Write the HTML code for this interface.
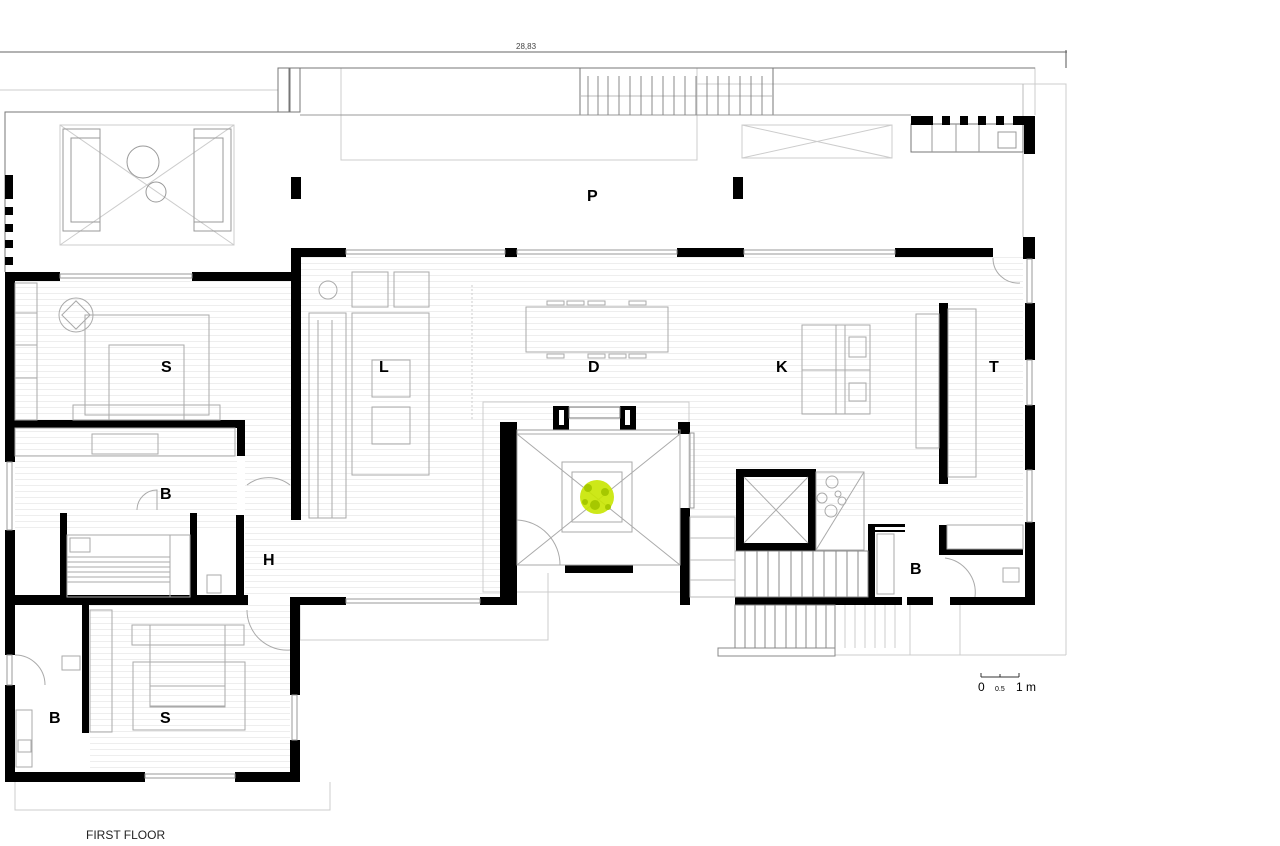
<!DOCTYPE html>
<html><head><meta charset="utf-8"><style>
html,body{margin:0;padding:0;background:#fff;}
svg{display:block;}
text{font-family:"Liberation Sans",sans-serif;}
.l{font-weight:bold;font-size:16px;fill:#000;}
</style></head><body>
<svg width="1280" height="846" viewBox="0 0 1280 846" xmlns="http://www.w3.org/2000/svg">
<defs>
<pattern id="fl" width="8" height="6" patternUnits="userSpaceOnUse"><line x1="0" y1="5.5" x2="8" y2="5.5" stroke="#eee" stroke-width="1"/></pattern>
</defs>
<!-- dimension line -->
<line x1="0" y1="52" x2="1067" y2="52" stroke="#666" stroke-width="1"/>
<line x1="1066" y1="50" x2="1066" y2="68" stroke="#555" stroke-width="1"/>
<text x="516" y="49" font-size="8" fill="#444">28,83</text>

<!-- floor hatching -->
<rect x="15" y="280" width="276" height="140" fill="url(#fl)"/>
<rect x="15" y="428" width="222" height="102" fill="url(#fl)"/>
<rect x="90" y="605" width="200" height="167" fill="url(#fl)"/>
<rect x="301" y="256" width="722" height="164" fill="url(#fl)"/>
<rect x="245" y="420" width="255" height="177" fill="url(#fl)"/>
<rect x="690" y="420" width="333" height="100" fill="url(#fl)"/>

<!-- faint outlines -->
<g fill="none" stroke="#ccc" stroke-width="1">
<rect x="341" y="68" width="356" height="92"/>
<line x1="0" y1="90" x2="278" y2="90"/>
<polyline points="697,68 1035,68 1035,115"/>
<polyline points="697,84 1066,84 1066,655"/>
<polyline points="300,605 300,640 548,640 548,573"/>
<polyline points="15,782 15,810 330,810 330,782"/>
<rect x="483" y="402" width="206" height="190"/>
<rect x="742" y="125" width="150" height="33"/>
<line x1="742" y1="125" x2="892" y2="158"/><line x1="742" y1="158" x2="892" y2="125"/>
<rect x="60" y="125" width="174" height="120"/>
<line x1="60" y1="125" x2="234" y2="245"/><line x1="60" y1="245" x2="234" y2="125"/>
<line x1="1023" y1="84" x2="1023" y2="237" stroke="#bbb"/>
<line x1="910" y1="605" x2="910" y2="655"/><line x1="960" y1="605" x2="960" y2="655"/>
<line x1="835" y1="655" x2="1066" y2="655"/>
<line x1="472" y1="285" x2="472" y2="420" stroke-dasharray="2,2"/>
</g>
<!-- terrace outline -->
<g fill="none" stroke="#777" stroke-width="1">
<polyline points="5,272 5,112 290,112 290,68 1035,68"/>
<rect x="278" y="68" width="22" height="44"/>
<line x1="289" y1="68" x2="289" y2="112"/>
<rect x="580" y="68" width="193" height="47"/>
<line x1="300" y1="115" x2="911" y2="115" stroke="#999"/>
<rect x="911" y="124" width="112" height="28"/>
</g>
<g stroke="#888" stroke-width="1">
<line x1="580" y1="96" x2="773" y2="96" stroke="#bbb"/>
<line x1="588" y1="76" x2="588" y2="115"/><line x1="598" y1="76" x2="598" y2="115"/><line x1="608" y1="76" x2="608" y2="115"/><line x1="619" y1="76" x2="619" y2="115"/><line x1="630" y1="76" x2="630" y2="115"/><line x1="641" y1="76" x2="641" y2="115"/><line x1="652" y1="76" x2="652" y2="115"/><line x1="663" y1="76" x2="663" y2="115"/><line x1="674" y1="76" x2="674" y2="115"/><line x1="685" y1="76" x2="685" y2="115"/><line x1="696" y1="76" x2="696" y2="115"/><line x1="707" y1="76" x2="707" y2="115"/><line x1="718" y1="76" x2="718" y2="115"/><line x1="729" y1="76" x2="729" y2="115"/><line x1="740" y1="76" x2="740" y2="115"/><line x1="751" y1="76" x2="751" y2="115"/><line x1="762" y1="76" x2="762" y2="115"/>
</g>
<!-- terrace furniture -->
<g fill="none" stroke="#999" stroke-width="1">
<rect x="63" y="129" width="37" height="102"/><rect x="71" y="138" width="29" height="84"/>
<rect x="194" y="129" width="37" height="102"/><rect x="194" y="138" width="29" height="84"/>
<circle cx="143" cy="162" r="16"/><circle cx="156" cy="192" r="10"/>
<line x1="932" y1="124" x2="932" y2="152"/><line x1="956" y1="124" x2="956" y2="152"/><line x1="979" y1="124" x2="979" y2="152"/>
<rect x="998" y="132" width="18" height="16"/>
</g>
<!-- shed wall pattern -->
<g fill="#000">
<rect x="911" y="116" width="22" height="9"/><rect x="942" y="116" width="8" height="9"/><rect x="960" y="116" width="8" height="9"/><rect x="978" y="116" width="8" height="9"/><rect x="996" y="116" width="8" height="9"/><rect x="1013" y="116" width="22" height="9"/>
<rect x="1024" y="116" width="11" height="38"/>
<!-- piers -->
<rect x="291" y="177" width="10" height="22"/><rect x="733" y="177" width="10" height="22"/>
<rect x="5" y="175" width="8" height="24"/><rect x="5" y="207" width="8" height="8"/><rect x="5" y="224" width="8" height="8"/><rect x="5" y="240" width="8" height="8"/><rect x="5" y="257" width="8" height="8"/>
</g>

<!-- WALLS -->
<g fill="#000">
<!-- bedroom top S -->
<rect x="5" y="272" width="55" height="9"/><rect x="192" y="272" width="108" height="9"/>
<rect x="5" y="272" width="10" height="150"/>
<rect x="5" y="420" width="240" height="8"/><rect x="237" y="420" width="8" height="36"/>
<rect x="5" y="428" width="10" height="34"/><rect x="5" y="530" width="10" height="75"/>
<rect x="60" y="513" width="7" height="87"/><rect x="190" y="513" width="7" height="87"/>
<rect x="236" y="515" width="8" height="90"/>
<rect x="5" y="595" width="243" height="10"/>
<!-- lower S -->
<rect x="5" y="605" width="10" height="50"/><rect x="5" y="685" width="10" height="97"/>
<rect x="82" y="605" width="7" height="128"/>
<rect x="5" y="772" width="140" height="10"/><rect x="235" y="772" width="65" height="10"/>
<rect x="290" y="597" width="10" height="98"/><rect x="290" y="740" width="10" height="42"/>
<!-- main block -->
<rect x="291" y="248" width="10" height="272"/><rect x="291" y="248" width="55" height="9"/>
<rect x="505" y="248" width="12" height="9"/><rect x="677" y="248" width="67" height="9"/>
<rect x="895" y="248" width="98" height="9"/>
<rect x="1023" y="237" width="12" height="22"/>
<rect x="1025" y="303" width="10" height="57"/><rect x="1025" y="405" width="10" height="65"/><rect x="1025" y="522" width="10" height="83"/>
<rect x="290" y="597" width="56" height="8"/><rect x="480" y="597" width="37" height="8"/>
<rect x="500" y="422" width="17" height="183"/>
<!-- courtyard -->
<rect x="553" y="406" width="16" height="24"/><rect x="620" y="406" width="16" height="24"/>
<rect x="565" y="565" width="68" height="8"/>
<rect x="678" y="422" width="12" height="12"/>
<rect x="680" y="508" width="10" height="97"/>
<rect x="480" y="597" width="37" height="8"/>
<!-- lift core -->
<rect x="736" y="469" width="80" height="8"/><rect x="736" y="469" width="8" height="82"/><rect x="808" y="469" width="8" height="82"/><rect x="736" y="543" width="80" height="8"/>
<!-- bottom right -->
<rect x="735" y="597" width="167" height="8"/><rect x="907" y="597" width="26" height="8"/><rect x="950" y="597" width="85" height="8"/>
<rect x="868" y="527" width="7" height="78"/><rect x="868" y="524" width="37" height="3"/><rect x="868" y="530" width="37" height="2"/>
<rect x="939" y="525" width="8" height="30"/><rect x="939" y="549" width="84" height="6"/>
<!-- T divider -->
<rect x="939" y="303" width="9" height="181"/>
</g>
<rect x="559" y="410" width="5" height="15" fill="#fff"/><rect x="625" y="410" width="5" height="15" fill="#fff"/>
<rect x="569" y="407" width="51" height="11" fill="none" stroke="#777"/>

<!-- windows -->
<g fill="none" stroke="#999" stroke-width="1">
<rect x="346" y="250" width="159" height="4"/><rect x="517" y="250" width="160" height="4"/><rect x="744" y="250" width="151" height="4"/>
<rect x="60" y="274" width="132" height="4"/><rect x="145" y="774" width="90" height="4"/><rect x="346" y="599" width="134" height="4"/>
<rect x="1027" y="259" width="5" height="44"/><rect x="1027" y="360" width="5" height="45"/><rect x="1027" y="470" width="5" height="52"/>
<rect x="7" y="462" width="5" height="68"/><rect x="7" y="655" width="5" height="30"/><rect x="292" y="695" width="5" height="45"/>
<rect x="690" y="433" width="4" height="75"/><rect x="517" y="430" width="163" height="4"/>
</g>
<!-- interior fixtures -->
<g fill="none" stroke="#aaa" stroke-width="1">
<rect x="15" y="283" width="22" height="137"/><line x1="15" y1="313" x2="37" y2="313"/><line x1="15" y1="345" x2="37" y2="345"/><line x1="15" y1="378" x2="37" y2="378"/>
<rect x="85" y="315" width="124" height="100"/><rect x="109" y="345" width="75" height="75"/><rect x="73" y="405" width="147" height="15"/>
<circle cx="76" cy="315" r="17"/><rect x="66" y="305" width="20" height="20" transform="rotate(45 76 315)"/>
<rect x="15" y="428" width="220" height="28"/><rect x="92" y="434" width="66" height="20"/>
<rect x="67" y="535" width="123" height="62"/><rect x="70" y="538" width="20" height="14"/>
<line x1="67" y1="557" x2="170" y2="557"/><line x1="67" y1="562" x2="170" y2="562"/><line x1="67" y1="567" x2="170" y2="567"/><line x1="67" y1="572" x2="170" y2="572"/><line x1="67" y1="577" x2="170" y2="577"/><line x1="67" y1="582" x2="170" y2="582"/>
<rect x="170" y="535" width="20" height="62"/>
<rect x="207" y="575" width="14" height="18"/>
<rect x="90" y="610" width="22" height="122"/>
<rect x="132" y="625" width="112" height="20"/><rect x="150" y="625" width="75" height="82"/><rect x="150" y="686" width="75" height="20"/><rect x="133" y="662" width="112" height="68"/>
<rect x="62" y="656" width="18" height="14"/><rect x="16" y="710" width="16" height="57"/><rect x="18" y="740" width="13" height="12"/>
<path d="M15 655 A30 30 0 0 1 45 685"/>
<path d="M247 485 A35 35 0 0 1 290 485"/><path d="M247 610 A40 40 0 0 0 290 650"/>
<path d="M137 510 A20 20 0 0 1 157 490 L157 510"/>
<!-- living -->
<circle cx="328" cy="290" r="9"/>
<rect x="352" y="272" width="36" height="35"/><rect x="394" y="272" width="35" height="35"/>
<rect x="309" y="313" width="37" height="205"/><line x1="318" y1="320" x2="318" y2="518"/><line x1="332" y1="320" x2="332" y2="518"/>
<rect x="352" y="313" width="77" height="162"/><rect x="372" y="360" width="38" height="37"/><rect x="372" y="407" width="38" height="37"/>
<!-- dining -->
<rect x="526" y="307" width="142" height="45"/>
<rect x="547" y="301" width="17" height="4"/><rect x="567" y="301" width="17" height="4"/><rect x="588" y="301" width="17" height="4"/><rect x="629" y="301" width="17" height="4"/>
<rect x="547" y="354" width="17" height="4"/><rect x="588" y="354" width="17" height="4"/><rect x="609" y="354" width="17" height="4"/><rect x="629" y="354" width="17" height="4"/>
<!-- kitchen island -->
<rect x="802" y="325" width="68" height="89"/><line x1="802" y1="370" x2="870" y2="370"/><line x1="836" y1="325" x2="836" y2="414"/><line x1="845" y1="325" x2="845" y2="414"/>
<rect x="849" y="337" width="17" height="20"/><rect x="849" y="383" width="17" height="18"/>
<!-- T shelves -->
<rect x="916" y="314" width="23" height="134"/><rect x="948" y="309" width="28" height="168"/>
<rect x="947" y="525" width="76" height="24"/>
<rect x="1003" y="568" width="16" height="14"/><rect x="877" y="534" width="17" height="60"/>
<path d="M993 258 A25 25 0 0 0 1020 283"/><path d="M945 558 A35 35 0 0 1 975 597"/>
<!-- courtyard -->
<rect x="517" y="434" width="163" height="131"/>
<line x1="517" y1="434" x2="680" y2="565"/><line x1="680" y1="434" x2="517" y2="565"/>
<rect x="562" y="462" width="70" height="70"/><rect x="572" y="472" width="50" height="50"/>
<path d="M517 520 A45 45 0 0 1 560 565"/>
<!-- lift + shaft -->
<line x1="744" y1="477" x2="808" y2="543"/><line x1="808" y1="477" x2="744" y2="543"/>
<rect x="816" y="472" width="48" height="78"/><line x1="816" y1="550" x2="864" y2="472"/>
<circle cx="832" cy="482" r="6"/><circle cx="838" cy="494" r="3"/><circle cx="822" cy="498" r="5"/><circle cx="842" cy="501" r="4"/><circle cx="831" cy="511" r="6"/>
</g>
<!-- plant -->
<g fill="#c8e600" opacity="0.9">
<circle cx="597" cy="497" r="17"/>
</g>
<g fill="#a6c800"><circle cx="588" cy="488" r="4"/><circle cx="605" cy="492" r="4"/><circle cx="595" cy="505" r="5"/><circle cx="608" cy="507" r="3"/><circle cx="585" cy="502" r="3"/></g>
<!-- stairs -->
<g fill="none" stroke="#888" stroke-width="1">
<rect x="735" y="551" width="133" height="46"/>
<line x1="745" y1="551" x2="745" y2="597"/><line x1="757" y1="551" x2="757" y2="597"/><line x1="768" y1="551" x2="768" y2="597"/><line x1="779" y1="551" x2="779" y2="597"/><line x1="791" y1="551" x2="791" y2="597"/><line x1="802" y1="551" x2="802" y2="597"/><line x1="813" y1="551" x2="813" y2="597"/><line x1="824" y1="551" x2="824" y2="597"/><line x1="836" y1="551" x2="836" y2="597"/><line x1="847" y1="551" x2="847" y2="597"/><line x1="858" y1="551" x2="858" y2="597"/>
<rect x="690" y="517" width="45" height="80" stroke="#bbb"/>
<line x1="690" y1="538" x2="735" y2="538" stroke="#bbb"/><line x1="690" y1="560" x2="735" y2="560" stroke="#bbb"/><line x1="690" y1="580" x2="735" y2="580" stroke="#bbb"/>
<rect x="735" y="605" width="100" height="43"/>
<line x1="745" y1="605" x2="745" y2="648"/><line x1="755" y1="605" x2="755" y2="648"/><line x1="765" y1="605" x2="765" y2="648"/><line x1="775" y1="605" x2="775" y2="648"/><line x1="786" y1="605" x2="786" y2="648"/><line x1="796" y1="605" x2="796" y2="648"/><line x1="806" y1="605" x2="806" y2="648"/><line x1="816" y1="605" x2="816" y2="648"/><line x1="826" y1="605" x2="826" y2="648"/>
<rect x="718" y="648" width="117" height="8"/>
</g>
<g fill="none" stroke="#ccc"><line x1="845" y1="605" x2="845" y2="648"/><line x1="855" y1="605" x2="855" y2="648"/><line x1="865" y1="605" x2="865" y2="648"/><line x1="875" y1="605" x2="875" y2="648"/><line x1="885" y1="605" x2="885" y2="648"/><line x1="895" y1="605" x2="895" y2="648"/></g>

<!-- labels -->
<text class="l" x="161" y="372">S</text>
<text class="l" x="160" y="499">B</text>
<text class="l" x="263" y="565">H</text>
<text class="l" x="49" y="723">B</text>
<text class="l" x="160" y="723">S</text>
<text class="l" x="379" y="372">L</text>
<text class="l" x="588" y="372">D</text>
<text class="l" x="776" y="372">K</text>
<text class="l" x="989" y="372">T</text>
<text class="l" x="587" y="201">P</text>
<text class="l" x="910" y="574">B</text>

<!-- scale -->
<g stroke="#333" stroke-width="1"><line x1="981" y1="677" x2="1019" y2="677"/><line x1="981" y1="673" x2="981" y2="677"/><line x1="1000" y1="674" x2="1000" y2="677"/><line x1="1019" y1="673" x2="1019" y2="677"/></g>
<text x="978" y="691" font-size="12">0</text>
<text x="995" y="691" font-size="7">0.5</text>
<text x="1016" y="691" font-size="12">1 m</text>
<text x="86" y="839" font-size="12" fill="#222">FIRST FLOOR</text>
</svg>
</body></html>
